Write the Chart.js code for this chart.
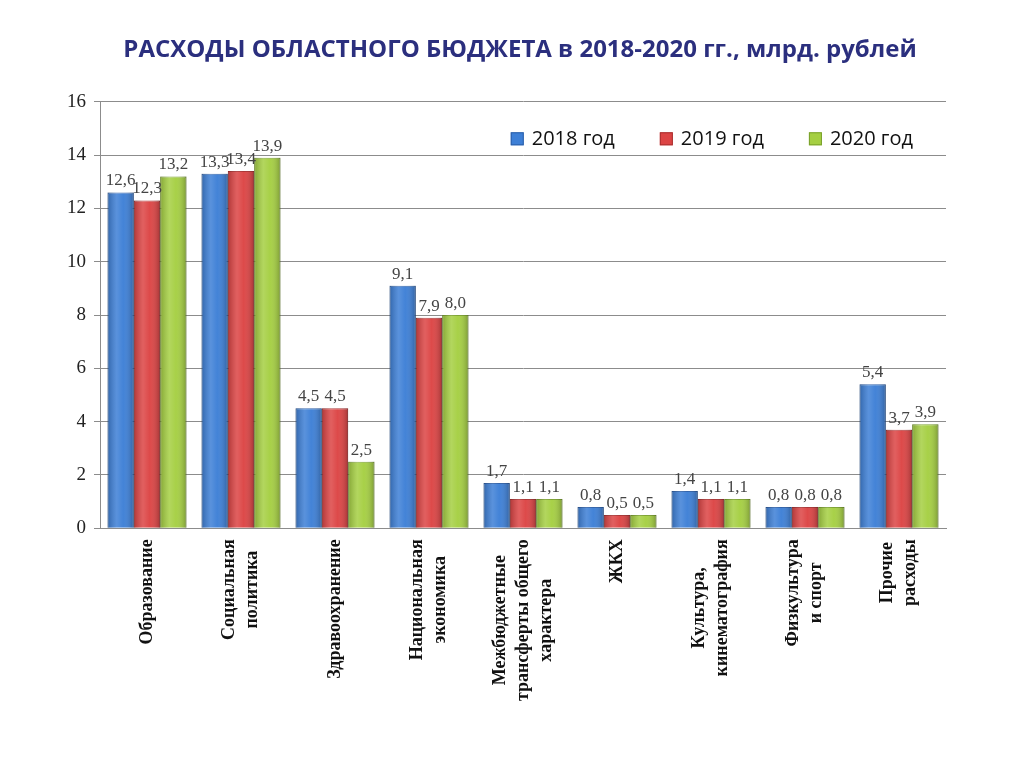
<!DOCTYPE html>
<html>
<head>
<meta charset="utf-8">
<script src="https://cdn.jsdelivr.net/npm/chart.js@4/dist/chart.umd.min.js"></script>
<style>
  html, body { margin: 0; padding: 0; background: #fff; }
  #wrap { width: 1024px; height: 767px; }
</style>
</head>
<body>
<div id="wrap"><canvas id="myChart" width="1024" height="767"></canvas></div>
<script>
// категории и значения (млрд. руб.)
var categories = [
    ['Образование'],
    ['Социальная', 'политика'],
    ['Здравоохранение'],
    ['Национальная', 'экономика'],
    ['Межбюджетные', 'трансферты общего', 'характера'],
    ['ЖКХ'],
    ['Культура,', 'кинематография'],
    ['Физкультура', 'и спорт'],
    ['Прочие', 'расходы']
];
var values2018 = [12.6, 13.3, 4.5, 9.1, 1.7, 0.8, 1.4, 0.8, 5.4];
var values2019 = [12.3, 13.4, 4.5, 7.9, 1.1, 0.5, 1.1, 0.8, 3.7];
var values2020 = [13.2, 13.9, 2.5, 8.0, 1.1, 0.5, 1.1, 0.8, 3.9];
var seriesNames = ['2018 год', '2019 год', '2020 год'];
var yTicks = [0, 2, 4, 6, 8, 10, 12, 14, 16];

var catFont = 'bold 18px "Liberation Serif"';
var catLineHeight = 23;

// объёмные столбики: затемнение по краям, блик в середине
var barShade = {
    id: 'barShade',
    afterDatasetsDraw: function(chart) {
        var c = chart.ctx;
        chart.data.datasets.forEach(function(ds, i) {
            chart.getDatasetMeta(i).data.forEach(function(bar) {
                var left = bar.x - bar.width / 2;
                var top = bar.y, h = bar.base - bar.y;
                var g = c.createLinearGradient(left, 0, left + bar.width, 0);
                g.addColorStop(0, 'rgba(0,0,0,0.2)');
                g.addColorStop(0.35, 'rgba(255,255,255,0.15)');
                g.addColorStop(0.6, 'rgba(255,255,255,0.03)');
                g.addColorStop(1, 'rgba(0,0,0,0.25)');
                c.save();
                c.fillStyle = g;
                c.fillRect(left, top, bar.width, h);
                c.restore();
            });
        });
    }
};

// подписи значений над столбиками
var valueLabels = {
    id: 'valueLabels',
    afterDatasetsDraw: function(chart) {
        var c = chart.ctx;
        c.save();
        c.font = '17px "Liberation Serif"';
        c.fillStyle = '#444';
        c.textAlign = 'center';
        c.textBaseline = 'bottom';
        chart.data.datasets.forEach(function(ds, i) {
            chart.getDatasetMeta(i).data.forEach(function(bar, j) {
                c.fillText(ds.data[j].toFixed(1).replace('.', ','), bar.x, bar.y - 3);
            });
        });
        c.restore();
    }
};

// подписи категорий: повёрнуты, строки выровнены по центру
var catLabels = {
    id: 'catLabels',
    afterDraw: function(chart) {
        var c = chart.ctx, xs = chart.scales.x;
        c.save();
        c.font = catFont;
        c.fillStyle = '#111';
        c.textAlign = 'center';
        c.textBaseline = 'middle';
        categories.forEach(function(lines, i) {
            var px = xs.getPixelForTick(i);
            var w = Math.max.apply(null, lines.map(function(s) { return c.measureText(s).width; }));
            var cy = xs.top + 11 + w / 2;
            lines.forEach(function(s, k) {
                var lx = px + (k - (lines.length - 1) / 2) * catLineHeight;
                c.save();
                c.translate(lx, cy);
                c.rotate(-Math.PI / 2);
                c.fillText(s, 0, 0);
                c.restore();
            });
        });
        c.restore();
    }
};

// легенда внутри области графика, справа сверху
var innerLegend = {
    id: 'innerLegend',
    afterDraw: function(chart) {
        var c = chart.ctx, area = chart.chartArea;
        var box = 13, gap = 8, spacing = 45;
        c.save();
        c.font = '20px "Open Sans"';
        c.textBaseline = 'middle';
        var widths = chart.data.datasets.map(function(ds) {
            return box + gap + c.measureText(ds.label).width;
        });
        var total = widths.reduce(function(a, b) { return a + b; }, 0) + spacing * (widths.length - 1);
        var x = area.right - 33 - total;
        var y = area.top + 37;
        chart.data.datasets.forEach(function(ds, i) {
            c.fillStyle = ds.backgroundColor;
            c.fillRect(x, y - box / 2, box, box);
            c.strokeStyle = ds.borderColor;
            c.lineWidth = 1;
            c.strokeRect(x + 0.5, y - box / 2 + 0.5, box - 1, box - 1);
            c.fillStyle = '#111';
            c.fillText(ds.label, x + box + gap, y);
            x += widths[i] + spacing;
        });
        c.restore();
    }
};

var ctx = document.getElementById('myChart');
var myChart = new Chart(ctx, {
    type: 'bar',
    data: {
        labels: categories,
        datasets: [
            { label: seriesNames[0], data: values2018, backgroundColor: '#3d7fd6', borderColor: '#2c5fa8', borderWidth: 1 },
            { label: seriesNames[1], data: values2019, backgroundColor: '#dc4444', borderColor: '#a83030', borderWidth: 1 },
            { label: seriesNames[2], data: values2020, backgroundColor: '#a5cf42', borderColor: '#7aa02c', borderWidth: 1 }
        ]
    },
    options: {
        responsive: false,
        animation: false,
        categoryPercentage: 0.84,
        barPercentage: 1.0,
        layout: { padding: { left: 62, right: 46, top: 0, bottom: 61 } },
        scales: {
            y: {
                min: 0,
                max: 16,
                afterBuildTicks: function(axis) {
                    axis.ticks = yTicks.map(function(v) { return { value: v }; });
                },
                afterFit: function(axis) { axis.width = 38; },
                ticks: {
                    font: { family: '"Liberation Serif"', size: 19 },
                    color: '#222',
                    padding: 8
                },
                grid: { color: '#8c8c8c', lineWidth: 1, tickLength: 6, tickColor: '#8c8c8c' },
                border: { color: '#8c8c8c' }
            },
            // пустое поле справа, чтобы заголовок стоял как в оригинале
            yRight: {
                position: 'right',
                min: 0,
                max: 16,
                afterFit: function(axis) { axis.width = 32; },
                ticks: { display: false },
                grid: { display: false },
                border: { display: false }
            },
            x: {
                // место под подписи резервирует сама шкала, рисует их плагин catLabels
                ticks: {
                    minRotation: 90,
                    maxRotation: 90,
                    autoSkip: false,
                    font: { family: '"Liberation Serif"', size: 18, weight: 'bold', lineHeight: 1.3 },
                    color: 'rgba(0,0,0,0)',
                    padding: 4
                },
                grid: { display: false },
                border: { color: '#8c8c8c' }
            }
        },
        plugins: {
            title: {
                display: true,
                text: 'РАСХОДЫ ОБЛАСТНОГО БЮДЖЕТА в 2018-2020 гг., млрд. рублей',
                color: '#2b2f7e',
                font: { family: '"Open Sans"', size: 24, weight: 'bold' },
                padding: { top: 36, bottom: 37 }
            },
            legend: { display: false },
            tooltip: { enabled: false }
        }
    },
    plugins: [barShade, valueLabels, catLabels, innerLegend]
});
</script>
</body>
</html>
